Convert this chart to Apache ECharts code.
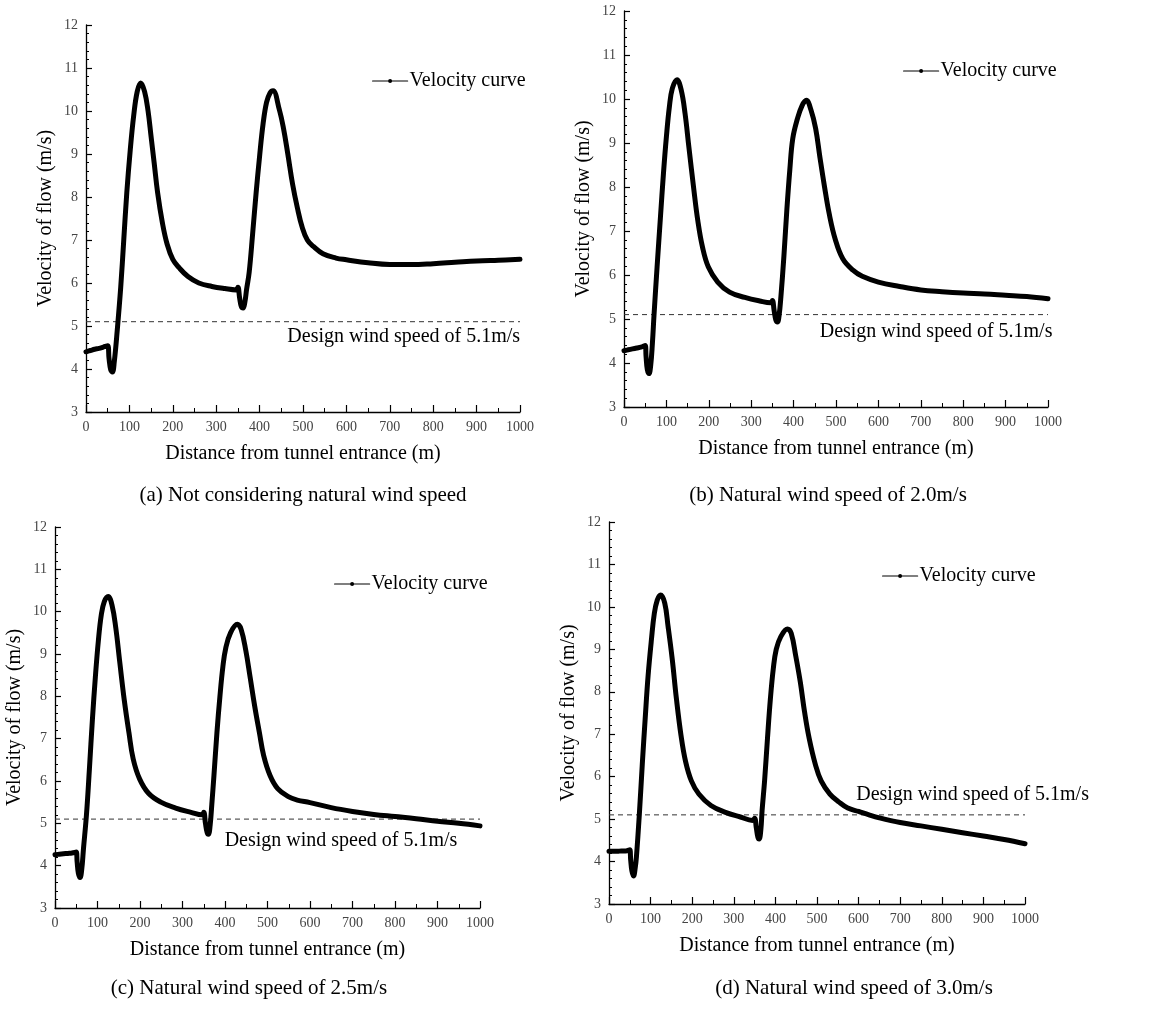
<!DOCTYPE html>
<html>
<head>
<meta charset="utf-8">
<script src="https://cdn.jsdelivr.net/npm/echarts@6/dist/echarts.min.js"></script>
<style>
html,body{margin:0;padding:0;background:#fff;}
#chart{width:1151px;height:1009px;}
</style>
</head>
<body>
<div id="chart"></div>
<script>
// ---- Data ----
const distA = [0,10,20,30,40,50,53,57,61,65,72,80,87,94,102,110,118,126,135,143,150,157,165,176,187,200,215,235,260,290,320,346,350,354,358,362,366,370,376,384,392,400,408,416,424,431,445,455,465,476,487,498,510,524,546,576,600,650,700,750,800,850,900,950,1000];
const velA  = [4.40,4.43,4.46,4.48,4.51,4.54,4.25,3.98,3.93,4.15,4.90,5.90,7.00,8.10,9.10,9.90,10.45,10.65,10.45,10.00,9.40,8.80,8.10,7.40,6.90,6.55,6.35,6.15,6.00,5.92,5.87,5.84,5.90,5.65,5.45,5.42,5.55,5.85,6.25,7.15,8.10,8.95,9.70,10.20,10.42,10.47,10.05,9.60,9.00,8.30,7.75,7.30,7.00,6.85,6.68,6.58,6.54,6.47,6.43,6.43,6.45,6.48,6.51,6.53,6.55];

const distB = [0,10,20,30,40,50,52,55,59,63,67,71,78,86,93,100,107,114,125,135,144,153,164,174,185,199,221,249,285,320,346,350,354,358,362,366,370,377,384,391,398,409,420,430,441,452,462,473,484,498,516,540,562,600,650,700,750,800,850,900,950,1000];
const velB  = [4.28,4.30,4.32,4.34,4.36,4.40,4.15,3.85,3.76,3.95,4.45,5.12,6.18,7.32,8.30,9.14,9.82,10.24,10.44,10.20,9.67,8.91,8.00,7.24,6.64,6.18,5.84,5.61,5.49,5.41,5.37,5.42,5.20,4.98,4.93,5.10,5.50,6.41,7.47,8.38,9.10,9.55,9.85,9.97,9.75,9.33,8.68,8.00,7.39,6.82,6.37,6.11,5.97,5.84,5.74,5.66,5.62,5.59,5.57,5.54,5.51,5.46];

const distC = [0,10,20,30,40,50,52,55,59,63,67,74,81,88,95,102,109,116,125,134,143,152,163,174,184,199,220,249,284,320,346,350,354,358,361,365,369,374,381,388,395,402,413,429,438,449,459,470,481,491,506,524,549,570,600,650,700,750,800,850,900,950,1000];
const velC  = [4.26,4.27,4.28,4.29,4.30,4.32,4.10,3.82,3.72,3.92,4.40,5.20,6.29,7.45,8.46,9.31,9.93,10.24,10.36,10.16,9.62,8.84,7.91,7.14,6.52,6.05,5.71,5.50,5.36,5.26,5.20,5.26,5.00,4.78,4.74,4.95,5.45,6.13,7.14,7.99,8.70,9.15,9.50,9.70,9.58,9.08,8.46,7.76,7.14,6.60,6.13,5.82,5.63,5.55,5.49,5.37,5.28,5.21,5.16,5.11,5.05,5.00,4.94];

const distD = [0,10,20,30,40,50,52,55,59,63,66,73,80,87,94,102,109,116,124,134,142,152,162,173,184,198,216,245,280,316,345,350,354,358,361,365,368,374,381,388,395,402,413,429,438,449,460,470,481,496,510,531,553,574,600,625,650,700,750,800,850,900,950,1000];
const velD  = [4.24,4.24,4.24,4.25,4.25,4.28,4.05,3.78,3.66,3.85,4.12,5.12,6.29,7.37,8.38,9.23,9.85,10.16,10.28,10.09,9.54,8.77,7.84,6.98,6.36,5.90,5.59,5.32,5.16,5.05,4.97,5.02,4.80,4.57,4.53,4.75,5.20,5.90,6.91,7.84,8.55,9.00,9.30,9.48,9.38,8.84,8.22,7.53,6.91,6.29,5.90,5.59,5.40,5.26,5.18,5.10,5.03,4.92,4.84,4.76,4.68,4.60,4.52,4.42];

const designSpeed = 5.1;
const xRange = [0, 1000];
const yRange = [3, 12];
const captions = [
  '(a) Not considering natural wind speed',
  '(b) Natural wind speed of 2.0m/s',
  '(c) Natural wind speed of 2.5m/s',
  '(d) Natural wind speed of 3.0m/s'
];
const seriesName = 'Velocity curve';
const designLabel = 'Design wind speed of 5.1m/s';
const xName = 'Distance from tunnel entrance (m)';
const yName = 'Velocity of flow (m/s)';

// ---- Layout ----
const panels = [
  {dist: distA, vel: velA, grid: {left: 86, top: 25, width: 434, height: 387}, legend: {left: 372, top: 71}, labelAt: [732, 4.74], cap: [303, 495]},
  {dist: distB, vel: velB, grid: {left: 624, top: 11, width: 424, height: 396}, legend: {left: 903, top: 61}, labelAt: [736, 4.70], cap: [828, 495]},
  {dist: distC, vel: velC, grid: {left: 55, top: 527, width: 425, height: 381}, legend: {left: 334, top: 574}, labelAt: [673, 4.60], cap: [249, 988]},
  {dist: distD, vel: velD, grid: {left: 609, top: 522, width: 416, height: 382}, legend: {left: 882, top: 566}, labelAt: [874, 5.57], cap: [854, 988]}
];

const FONT = '"Liberation Serif", "Times New Roman", serif';
const chart = echarts.init(document.getElementById('chart'), null, {renderer: 'canvas'});

const option = {
  backgroundColor: '#fff',
  animation: false,
  grid: [], xAxis: [], yAxis: [], series: [], legend: [], graphic: []
};

panels.forEach((p, i) => {
  option.grid.push(Object.assign({containLabel: false}, p.grid));
  option.xAxis.push({
    type: 'value', gridIndex: i, min: xRange[0], max: xRange[1], interval: 100,
    name: xName, nameLocation: 'middle', nameGap: 32,
    nameTextStyle: {fontFamily: FONT, fontSize: 20, color: '#000'},
    axisLine: {show: true, onZero: false, lineStyle: {color: '#000', width: 1.3}},
    axisTick: {show: true, inside: true, length: 7, lineStyle: {color: '#000', width: 1.2}},
    minorTick: {show: true, splitNumber: 2, length: 4, lineStyle: {color: '#000', width: 1}},
    axisLabel: {fontFamily: FONT, fontSize: 14, color: '#444', margin: 8, formatter: v => String(v)},
    splitLine: {show: false}
  });
  option.yAxis.push({
    type: 'value', gridIndex: i, min: yRange[0], max: yRange[1], interval: 1,
    name: yName, nameLocation: 'middle', nameGap: 30,
    nameTextStyle: {fontFamily: FONT, fontSize: 20, color: '#000'},
    axisLine: {show: true, onZero: false, lineStyle: {color: '#000', width: 1.3}},
    axisTick: {show: true, inside: true, length: 6, lineStyle: {color: '#000', width: 1.2}},
    minorTick: {show: true, splitNumber: 5, length: 3, lineStyle: {color: '#000', width: 1}},
    axisLabel: {fontFamily: FONT, fontSize: 14, color: '#444', margin: 8},
    splitLine: {show: false}
  });
  option.series.push({
    name: seriesName, type: 'line', xAxisIndex: i, yAxisIndex: i,
    data: p.dist.map((d, k) => [d, p.vel[k]]),
    smooth: 0.4,
    symbol: 'circle', symbolSize: 4, showSymbol: false,
    lineStyle: {color: '#000', width: 5, cap: 'round', join: 'round'},
    itemStyle: {color: '#000'},
    z: 3
  });
  option.series.push({
    name: 'design', type: 'line', xAxisIndex: i, yAxisIndex: i,
    data: [[xRange[0], designSpeed], [xRange[1], designSpeed]],
    symbol: 'none', silent: true,
    lineStyle: {color: '#333', width: 1, type: [5, 4]},
    markPoint: {
      symbol: 'rect', symbolSize: 1, itemStyle: {color: 'rgba(0,0,0,0)'},
      data: [{coord: p.labelAt, value: designLabel}],
      label: {show: true, position: 'inside', formatter: designLabel, fontFamily: FONT, fontSize: 20, color: '#000'}
    },
    z: 2
  });
  option.legend.push({
    data: [seriesName], left: p.legend.left, top: p.legend.top, padding: 0,
    itemWidth: 35, itemHeight: 5, itemGap: 2,
    lineStyle: {width: 1.2, color: '#000'},
    itemStyle: {color: '#000'},
    textStyle: {fontFamily: FONT, fontSize: 20, color: '#000', padding: [0,0,0,-3]},
    selectedMode: false
  });
  option.graphic.push({
    type: 'text', x: p.cap[0], y: p.cap[1],
    style: {text: captions[i], fontFamily: FONT, fontSize: 21, fill: '#000', textAlign: 'center', textVerticalAlign: 'middle'}
  });
});

chart.setOption(option);
</script>
</body>
</html>
